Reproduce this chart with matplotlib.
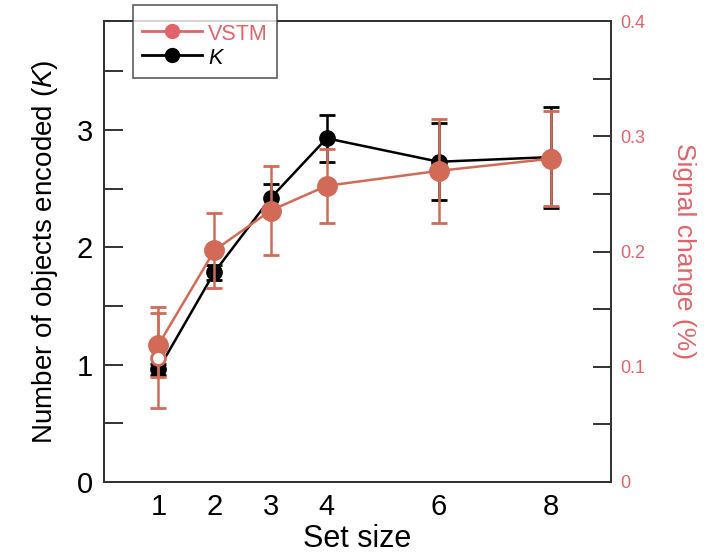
import numpy as np
import matplotlib
matplotlib.use('Agg')
import matplotlib.pyplot as plt
from matplotlib.lines import Line2D
from matplotlib.ticker import MultipleLocator

plt.rcParams['font.family'] = ['Liberation Sans', 'DejaVu Sans']
plt.rcParams['mathtext.fontset'] = 'custom'
plt.rcParams['mathtext.rm'] = 'Liberation Sans'
plt.rcParams['mathtext.it'] = 'Liberation Sans:italic'

# values
set_size = [1, 2, 3, 4, 6, 8]
k_vals = [0.96, 1.79, 2.42, 2.93, 2.73, 2.77]
k_err = [0.05, 0.064, 0.12, 0.2, 0.33, 0.43]
vstm_vals = [0.119, 0.201, 0.2355, 0.257, 0.270, 0.2805]
vstm_err = [0.028, 0.0325, 0.0385, 0.032, 0.045, 0.041]
# extra open point at set size 1
open_x = [1]
open_val = [0.108]
open_err = [0.0435]

salmon = '#d26a58'
pink = '#e0646a'
axis_col = '#333333'

fig = plt.figure(figsize=(7.24, 5.56), dpi=100)
ax = fig.add_axes([104/724, 1-482/556, 507/724, 461/556])
ax2 = ax.twinx()

ax.errorbar(set_size, k_vals, yerr=k_err, color='black', lw=1.8, marker='o', ms=11,
            capsize=6, capthick=2, elinewidth=1.8, zorder=3)

ax2.errorbar(set_size, vstm_vals, yerr=vstm_err, color=salmon, lw=1.8, marker='o', ms=14,
             capsize=6, capthick=2, elinewidth=1.8, zorder=3)
ax2.errorbar(open_x, open_val, yerr=open_err, color=salmon, lw=1.8, marker='o', ms=10,
             mfc='white', mec=salmon, mew=2, capsize=6, capthick=2, elinewidth=1.8, zorder=4)

ax.set_xlim(0.03, 9.07)
ax.set_ylim(0, 3.93)
ax2.set_ylim(0, 0.4)

ax.set_xticks(set_size)
ax.set_xticklabels([str(s) for s in set_size])
ax.set_yticks([0, 1, 2, 3])
ax.yaxis.set_minor_locator(MultipleLocator(0.5))
ax2.set_yticks([0, 0.1, 0.2, 0.3, 0.4])
ax2.set_yticklabels(['0', '0.1', '0.2', '0.3', '0.4'])
ax2.yaxis.set_minor_locator(MultipleLocator(0.05))

ax.tick_params(axis='x', length=0, pad=8, labelsize=21)
ax.tick_params(axis='y', which='both', direction='in', length=14, width=1.4,
               color=axis_col, labelsize=21, pad=8)
ax2.tick_params(axis='y', which='both', direction='in', length=13, width=1.4,
                color=axis_col, labelsize=13, labelcolor=pink, pad=7)

for a in (ax, ax2):
    for sp in a.spines.values():
        sp.set_color(axis_col)
        sp.set_linewidth(1.4)

ax.set_xlabel('Set size', fontsize=22, labelpad=2)
ax.set_ylabel('Number of objects encoded ($K$)', fontsize=20, labelpad=12)
ax2.set_ylabel('Signal change (%)', fontsize=19, color=pink, rotation=270, labelpad=36)

handles = [Line2D([], [], color=pink, lw=2, marker='o', ms=10),
           Line2D([], [], color='black', lw=2, marker='o', ms=10)]
# blank title just to leave the extra space above the entries
leg = ax2.legend(handles, ['VSTM', '$K$'], loc='upper left',
                 bbox_to_anchor=(133/724, 1-5/556), bbox_transform=fig.transFigure,
                 borderaxespad=0, fontsize=15.5, frameon=True, fancybox=False,
                 handlelength=2.8, handleheight=1.0, handletextpad=0.3,
                 borderpad=0.4, labelspacing=0.1, title=' ', title_fontsize=5)
leg.get_frame().set_edgecolor(axis_col)
leg.get_frame().set_linewidth(1.2)
leg.get_texts()[0].set_color(pink)
leg.set_zorder(10)

fig.savefig('out.png', dpi=100)
